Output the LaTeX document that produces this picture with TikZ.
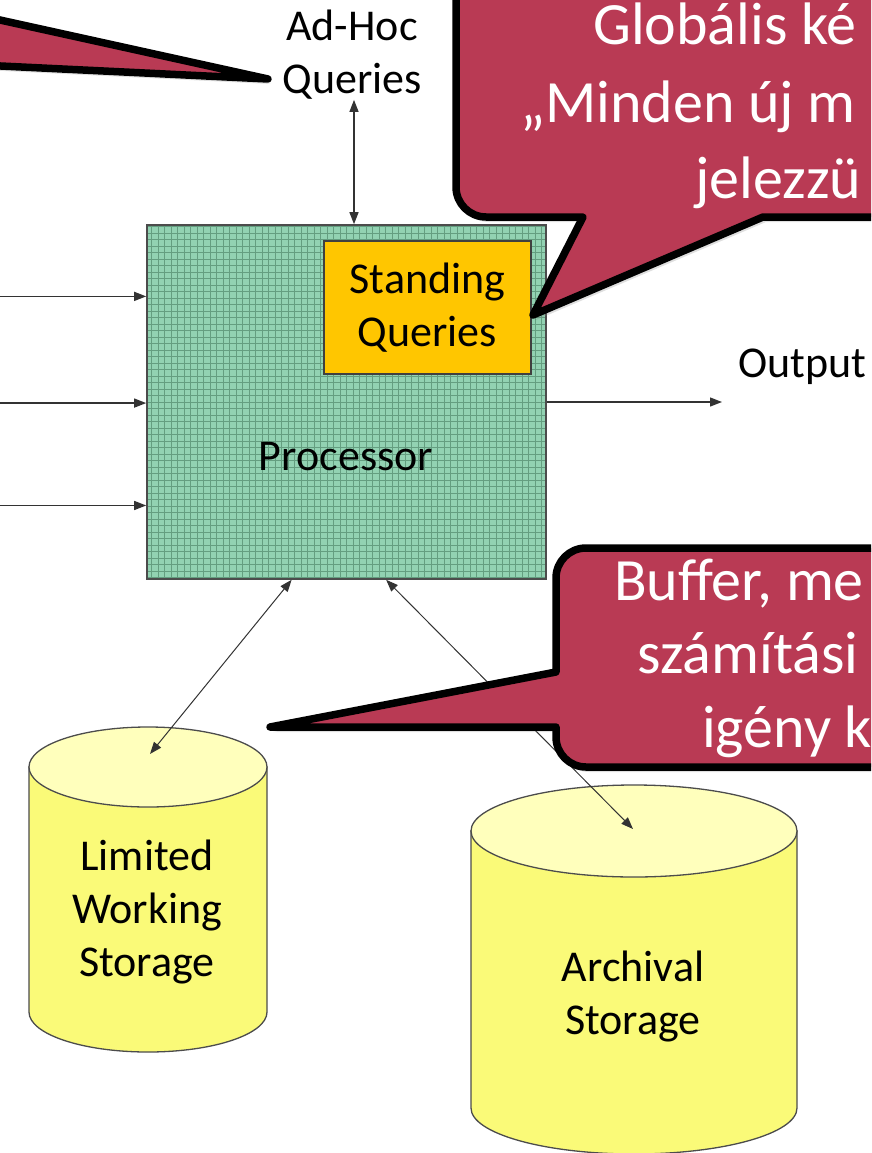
\documentclass[tikz,border=0pt]{standalone}
\usepackage{fontspec}
\setmainfont{Carlito}
\usetikzlibrary{arrows.meta,calc,shadows}
\definecolor{GridGreen}{RGB}{146,210,178}
\definecolor{GridLine}{RGB}{100,158,128}
\definecolor{QueryAmber}{RGB}{255,198,0}
\definecolor{DrumYellow}{RGB}{250,250,120}
\definecolor{DrumLid}{RGB}{255,255,188}
\definecolor{BubbleRed}{RGB}{185,58,84}
\tikzset{
  diagram text/.style={
    font=\fontsize{44}{53}\selectfont,
    align=center, inner sep=0pt
  },
  proc box/.style={
    draw=black!70, line width=1.6pt,
    fill=GridGreen,
    minimum width=399pt, minimum height=354pt, inner sep=0pt,
    path picture={
      \draw[GridLine, line width=.5pt]
        (path picture bounding box.south west) grid[step=6.5pt]
        (path picture bounding box.north east);
    }
  },
  query box/.style={
    diagram text,
    draw=black!75, line width=1.5pt,
    fill=QueryAmber,
    minimum width=207pt, minimum height=133pt
  },
  flow/.style={
    draw=black!80, line width=1.3pt,
    -{Triangle[length=12pt,width=9pt]}
  },
  two way/.style={
    flow,
    {Triangle[length=12pt,width=9pt]}-{Triangle[length=12pt,width=9pt]}
  },
  drum body/.style={
    draw=black!70, line width=1.3pt, fill=DrumYellow
  },
  drum lid/.style={
    draw=black!70, line width=1.3pt, fill=DrumLid
  },
  callout/.style={
    fill=BubbleRed, draw=black, line width=7.5pt, line join=round,
    drop shadow={shadow xshift=3pt, shadow yshift=-5pt, opacity=.25}
  },
  callout text/.style={
    text=white, font=\fontsize{60}{77}\selectfont,
    inner sep=0pt, anchor=base west
  },
}

\begin{document}
\begin{tikzpicture}[x=1pt, y=-1pt]
  \useasboundingbox (0,0) rectangle (871,1153);
  \clip (0,0) rectangle (871,1153);

  % processor with the standing queries inside
  \node[proc box] (proc) at (346.5,402) {};
  \node[query box] (standing) at (427.5,307.5) {Standing\\Queries};
  \node[diagram text, anchor=base] (proclabel) at (346,470) {Processor};

  % ad-hoc queries and the output
  \node[diagram text] (adhoc) at (352,55) {Ad-Hoc\\Queries};
  \draw[two way] (adhoc.south -| 354,0) -- (proc.north -| 354,0);
  \node[diagram text, anchor=base west] (outlabel) at (738,377) {Output};
  \coordinate (out) at (722,402);
  \draw[flow] (proc.east) -- (out);

  % input streams
  \foreach \f [count=\i] in {0.203,0.503,0.791} {
    \coordinate (in\i) at ($(proc.north west)!\f!(proc.south west)$);
    \draw[flow] (0,0 |- in\i) -- (in\i);
  }

  % storages
  \filldraw[drum body] (29,767) -- (29,1012)
    arc[start angle=180, end angle=0, x radius=119, y radius=40] -- (267,767) -- cycle;
  \filldraw[drum lid] (148,767) ellipse[x radius=119, y radius=40];
  \node[diagram text] (working) at (147,912) {Limited\\Working\\Storage};
  \coordinate (workingtop) at (150,754);

  \filldraw[drum body] (471,831) -- (471,1108)
    arc[start angle=180, end angle=0, x radius=163, y radius=46] -- (797,831) -- cycle;
  \filldraw[drum lid] (634,831) ellipse[x radius=163, y radius=46];
  \node[diagram text] (archival) at (633,996) {Archival\\Storage};
  \coordinate (archivaltop) at (633,829);

  \draw[two way, line width=1pt] ($(proc.south west)!0.363!(proc.south east)$) -- (workingtop);
  \draw[two way, line width=1pt] ($(proc.south west)!0.599!(proc.south east)$) -- (archivaltop);

  % callouts
  \draw[callout] (-80,-80) -- (-20,-80) -- (-20,15.6) -- (268,79) -- (-20,65)
    -- (-20,200) -- (-80,200) -- cycle;

  \draw[callout] (900,-60) -- (456,-60) -- (456,187)
    arc[start angle=180, end angle=90, radius=30]
    -- (583,217) -- (533,315) -- (763,217) -- (900,217) -- cycle;
  \node[callout text] (glob1) at (593,45) {Globális ké};
  \node[callout text] (glob2) at (520,122) {„Minden új m};
  \node[callout text] (glob3) at (695,198) {jelezzü};

  \draw[callout] (900,548) -- (586,548)
    arc[start angle=270, end angle=180, radius=30]
    -- (556,672) -- (270,727) -- (556,727) -- (556,737)
    arc[start angle=180, end angle=90, radius=30]
    -- (900,767) -- cycle;
  \node[callout text] (buf1) at (614,600) {Buffer, me};
  \node[callout text] (buf2) at (637,673) {számítási};
  \node[callout text] (buf3) at (702,747) {igény k};
\end{tikzpicture}
\end{document}
